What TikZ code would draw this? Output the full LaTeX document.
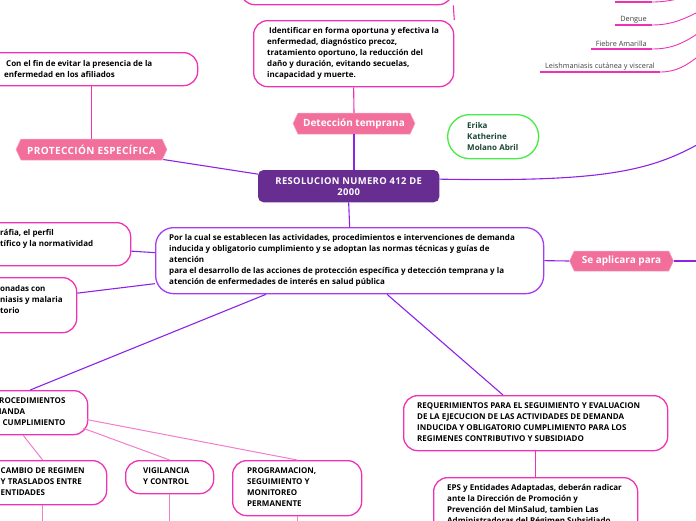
\documentclass[tikz,border=0pt]{standalone}
\usepackage{fontspec}
\setmainfont{Open Sans}
\usetikzlibrary{shapes.symbols,calc}
\definecolor{rosa}{RGB}{238,50,180}
\definecolor{rosaclaro}{RGB}{242,125,205}
\definecolor{violeta}{RGB}{140,35,230}
\definecolor{lila}{RGB}{165,60,240}
\definecolor{etiqueta}{RGB}{242,110,155}
\definecolor{morado}{RGB}{103,45,145}
\definecolor{verde}{RGB}{70,235,70}
\definecolor{verdeosc}{RGB}{25,70,50}

\begin{document}
\begin{tikzpicture}[x=1pt,y=-1pt,
  caja/.style={draw=rosa, line width=1.3pt, rounded corners=14pt, fill=white, inner sep=0pt, anchor=north west},
  txt/.style={font=\bfseries\fontsize{8}{11}\selectfont, align=left, anchor=west, inner sep=0pt},
  etiq/.style={signal, signal to=east and west, signal pointer angle=130, fill=etiqueta, draw=etiqueta!60, line width=.5pt, text=white, font=\bfseries\fontsize{10}{12}\selectfont, inner sep=0pt},
  lin/.style={violeta, line width=1.1pt},
  lrosa/.style={rosa, line width=1.1pt},
  lclaro/.style={rosaclaro, line width=1pt},
  sub/.style={font=\fontsize{7.3}{9}\selectfont, text=black!75, inner xsep=5pt, inner ysep=2pt, anchor=south east},
  subl/.style={rosa, line width=1.8pt}]
\useasboundingbox (0,0) rectangle (696,520);

% centro
\node[caja, draw=morado, fill=morado, rounded corners=5pt, minimum width=180, minimum height=31, text=white,
  font=\bfseries\fontsize{9.4}{11}\selectfont\addfontfeatures{LetterSpace=4}, align=center] (resol) at (258,170) {RESOLUCION NUMERO 412 DE\\2000};
\node[caja, draw=lila, rounded corners=18pt, minimum width=388, minimum height=66] (desc) at (155,227) {};
\node[txt] (desc-t) at (169,260.5) {Por la cual se establecen las actividades, procedimientos e intervenciones de demanda\\
  inducida y obligatorio cumplimiento y se adoptan las normas técnicas y guías de\\atención\\
  para el desarrollo de las acciones de protección específica y detección temprana y la\\
  atención de enfermedades de interés en salud pública};

% arriba
\node[caja, minimum width=212, minimum height=44] (topbox) at (240,-40) {};
\node[caja, minimum width=200, minimum height=66] (ident) at (253,20) {};
\node[txt] (ident-t) at (267,53) {\hspace*{2pt}Identificar en forma oportuna y efectiva la\\enfermedad, diagnóstico precoz,\\
  tratamiento oportuno, la reducción del\\daño y duración, evitando secuelas,\\incapacidad y muerte.};
\node[etiq, minimum width=122, minimum height=21] (detec) at (354,123.5) {Detección temprana};
\node[caja, draw=verde, rounded corners=22pt, minimum width=91, minimum height=44] (erika) at (447,114) {};
\node[txt, text=verdeosc] (erika-t) at (467,136) {Erika\\Katherine\\Molano Abril};

% izquierda
\node[caja, minimum width=240, minimum height=33] (con) at (-43,52) {};
\node[txt] (con-t) at (4,68.5) {\hspace*{2pt}Con el fin de evitar la presencia de la\\enfermedad en los afiliados};
\node[etiq, minimum width=151, minimum height=21, font=\bfseries\fontsize{10}{12}\selectfont\addfontfeatures{LetterSpace=4}] (prot) at (91.5,149.5) {PROTECCIÓN ESPECÍFICA};
\node[caja, minimum width=164, minimum height=43] (raf) at (-34,222) {};
\node[txt] (raf-t) at (0,239) {ráfia, el perfil\\tífico y la normatividad};
\node[caja, minimum width=106, minimum height=55] (ona) at (-30,277) {};
\node[txt] (ona-t) at (0,299) {onadas con\\niasis y malaria\\torio};

% abajo
\node[caja, minimum width=115, minimum height=44] (proc) at (-28,390) {};
\node[txt] (proc-t) at (-6,412) {PROCEDIMIENTOS\\MANDA\\O CUMPLIMIENTO};
\node[caja, minimum width=128, minimum height=44] (cambio) at (-22,460) {};
\node[txt] (cambio-t) at (0.5,482) {CAMBIO DE REGIMEN\\Y TRASLADOS ENTRE\\ENTIDADES};
\node[caja, minimum width=88, minimum height=33] (vig) at (125,460) {};
\node[txt] (vig-t) at (143,476.5) {VIGILANCIA\\Y CONTROL};
\node[caja, minimum width=129, minimum height=55] (prog) at (232,460) {};
\node[txt] (prog-t) at (247,487.5) {PROGRAMACION,\\SEGUIMIENTO Y\\MONITOREO\\PERMANENTE};
\node[caja, minimum width=264, minimum height=55] (req) at (403,395) {};
\node[txt] (req-t) at (417,422.5) {REQUERIMIENTOS PARA EL SEGUIMIENTO Y EVALUACION\\DE LA EJECUCION DE LAS ACTIVIDADES DE DEMANDA\\
  INDUCIDA Y OBLIGATORIO CUMPLIMIENTO PARA LOS\\REGIMENES CONTRIBUTIVO Y SUBSIDIADO};
\node[caja, minimum width=204, minimum height=80] (eps) at (433,477) {};
\node[txt] (eps-t) at (447,504.5) {EPS y Entidades Adaptadas, deberán radicar\\ante la Dirección de Promoción y\\
  Prevención del MinSalud, tambien Las\\Administradoras del Régimen Subsidiado};

% derecha
\node[etiq, minimum width=104, minimum height=20] (seapl) at (621.5,261) {Se aplicara para};
\node[sub] (dengue) at (652,25) {Dengue};
\node[sub] (fiebre) at (652,49) {Fiebre Amarilla};
\node[sub] (leish) at (660,72) {Leishmaniasis cutánea y visceral};
\coordinate (sup1) at (615,2);
\coordinate (sup2) at (652,2);
\coordinate (derA) at (702,142);
\coordinate (derB) at (700,261);
\coordinate (abajo) at (0,526);

% conectores
\draw[lrosa] (topbox.south east) -- (ident.north east);
\draw[lrosa] (ident.south) -- (detec.north);
\draw[lin] (detec.south) -- (detec.south |- resol.north);
\draw[lin] (resol.south) -- (desc.north);
\draw[lrosa] (con.south -| prot.north) -- (prot.north);
\draw[lin] ($(prot.east)+(-4,10)$) -- ($(resol.west)+(0,-12)$);
\draw[lin] ($(resol.east)+(0,-7)$) .. controls (600,182) and (650,172) .. (derA);
\draw[lin] (desc.east) -- (seapl.west);
\draw[lin] (seapl.east) -- (derB);
\draw[lin] ($(raf.east)+(0,7)$) -- ($(desc.west)+(0,-8)$);
\draw[lin] ($(ona.east)+(0,-12)$) -- ($(desc.west)+(0,23)$);
\draw[lin] ($(desc.south west)+(111,0)$) -- (proc.north);
\draw[lin] ($(desc.south west)+(232,0)$) -- ($(req.north west)+(100,0)$);
\draw[lrosa] (req.south -| eps.north) -- (eps.north);
\draw[lclaro] ($(proc.south)+(-7,0)$) -- (cambio.north);
\draw[lclaro] ($(proc.south east)+(-5,-7)$) -- (vig.north);
\draw[lclaro] ($(proc.east)+(-1,7)$) -- (prog.north);
\draw[lclaro] (cambio.south) -- (cambio.south |- abajo);
\draw[lclaro] (vig.south) -- (vig.south |- abajo);
\draw[lclaro] (prog.south) -- (prog.south |- abajo);

\draw[subl] (sup1) -- (sup2);
\draw[lrosa, line width=.9pt] (sup2) .. controls (672,2) and (684,-3) .. (700,-8);
\draw[subl] (dengue.south west) -- (dengue.south east);
\draw[lrosa, line width=.9pt] (dengue.south east) .. controls (672,25) and (684,19) .. (700,11);
\draw[subl] (fiebre.south west) -- (fiebre.south east);
\draw[lrosa, line width=.9pt] (fiebre.south east) .. controls (672,49) and (684,43) .. (700,32);
\draw[subl] (leish.south west) -- (leish.south east);
\draw[lrosa, line width=.9pt] (leish.south east) .. controls (676,72) and (686,66) .. (700,55);
\end{tikzpicture}
\end{document}
